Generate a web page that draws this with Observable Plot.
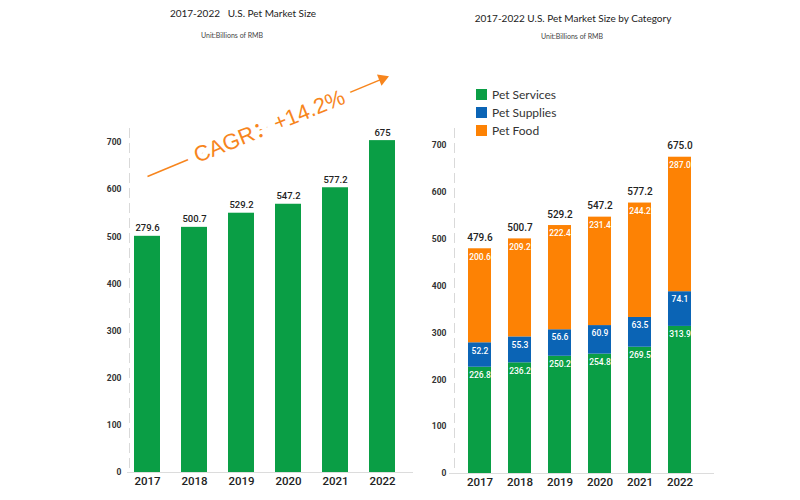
<!DOCTYPE html>
<html>
<head>
<meta charset="utf-8">
<script src="https://cdn.jsdelivr.net/npm/d3@7"></script>
<script src="https://cdn.jsdelivr.net/npm/@observablehq/plot@0.6"></script>
<style>
  body { margin: 0; background: #fff; }
  #wrap { position: relative; width: 800px; height: 500px; overflow: hidden; font-family: Lato, "Noto Sans", sans-serif; }
  .t { position: absolute; transform: translate(-50%, -50%); white-space: pre; line-height: 1; color: #222; }
  .chart { position: absolute; top: 0; }
  .legend { position: absolute; left: 476px; top: 86px; font-size: 12px; color: #333; }
  .legend .row { display: flex; align-items: center; height: 17.8px; }
  .legend .sw { width: 11px; height: 11px; margin-right: 5px; }
</style>
</head>
<body>
<div id="wrap">
  <div class="t" style="left:243px;top:13px;font-size:10px">2017-2022   U.S. Pet Market Size</div>
  <div class="t" style="left:232px;top:35px;font-size:7px;color:#444">Unit:Billions of RMB</div>
  <div class="t" style="left:573px;top:18px;font-size:10px">2017-2022 U.S. Pet Market Size by Category</div>
  <div class="t" style="left:572px;top:36px;font-size:7px;color:#444">Unit:Billions of RMB</div>
  <div class="chart" id="left" style="left:0px"></div>
  <div class="chart" id="right" style="left:420px"></div>
  <div class="legend" id="legend"></div>
</div>
<script>
// ---- data ----
const years = ["2017", "2018", "2019", "2020", "2021", "2022"];
// left chart: bar heights as drawn, and the labels printed above them
const marketHeights = [501, 520, 550, 569, 604, 704];
const marketLabels = ["279.6", "500.7", "529.2", "547.2", "577.2", "675"];
// right chart: stacked categories
const categories = ["Pet Services", "Pet Supplies", "Pet Food"];
const services = [226.8, 236.2, 250.2, 254.8, 269.5, 313.9];
const supplies = [52.2, 55.3, 56.6, 60.9, 63.5, 74.1];
const food = [200.6, 209.2, 222.4, 231.4, 244.2, 287.0];
const totals = [479.6, 500.7, 529.2, 547.2, 577.2, 675.0];
const yTicks = [0, 100, 200, 300, 400, 500, 600, 700];
const colors = ["#0a9e45", "#0b64b5", "#fd8204"];
const orange = "#f7851d";
// CAGR annotation (in data units)
const cagrLabel = "CAGR：+14.2%";
const cagrFrom = "2017", cagrTo = "2022", cagrStart = 628, cagrEnd = 835;
const cagrTextYear = "2020", cagrTextY = 734;

// ---- left chart ----
const leftData = years.map((year, i) => ({year, value: marketHeights[i], label: marketLabels[i]}));
const cagr = [{from: cagrFrom, to: cagrTo, start: cagrStart, end: cagrEnd, mid: cagrTextYear, ty: cagrTextY, label: cagrLabel}];

const left = Plot.plot({
  width: 420, height: 500,
  marginLeft: 129, marginRight: 7, marginTop: 128, marginBottom: 28,
  style: {fontFamily: "Roboto, sans-serif", background: "transparent", overflow: "visible"},
  x: {domain: years, paddingInner: 0.442, paddingOuter: 0.187, align: 0.24},
  y: {domain: [0, 729.7]},
  marks: [
    Plot.frame({anchor: "left", stroke: "#d9d9d9", strokeDasharray: "9,6"}),
    Plot.ruleY([0], {stroke: "#dcdcdc", insetLeft: -2}),
    Plot.barY(leftData, {x: "year", y: "value", fill: colors[0]}),
    Plot.text(leftData, {x: "year", y: "value", text: "label", dy: -8, fontSize: 9.5, fontWeight: 500, fill: "#222"}),
    Plot.axisY({ticks: yTicks, tickSize: 0, tickPadding: 8, fontSize: 8.5, fontWeight: 700, fill: "#333", label: null}),
    Plot.axisX({tickSize: 0, tickPadding: 4, fontSize: 11.5, fontWeight: 500, fill: "#222", label: null}),
    Plot.link(cagr, {x1: "from", y1: "start", x2: "to", y2: "end", stroke: orange, strokeWidth: 1.5}),
    Plot.dot(cagr, {x: "to", y: "end", symbol: "triangle", r: 4.5, fill: orange, rotate: 68}),
    Plot.text(cagr, {x: "mid", y: "ty", dx: -19, text: "label", rotate: -22, fontSize: 22, fill: orange,
      stroke: "white", strokeWidth: 17, fontFamily: "'Liberation Sans', Arial, 'Noto Sans CJK SC', sans-serif"})
  ]
});
document.getElementById("left").append(left);

// ---- right chart ----
const seriesValues = [services, supplies, food];
const stackData = categories.flatMap((category, c) =>
  years.map((year, i) => ({year, category, value: seriesValues[c][i]})));
const totalData = years.map((year, i) => ({year, total: totals[i]}));

const right = Plot.plot({
  width: 380, height: 500,
  marginLeft: 34, marginRight: 86, marginTop: 128, marginBottom: 27,
  style: {fontFamily: "Roboto, sans-serif", background: "transparent", overflow: "visible"},
  x: {domain: years, paddingInner: 0.431, paddingOuter: 0.402, align: 0.366},
  y: {domain: [0, 736.3]},
  color: {domain: categories, range: colors},
  marks: [
    Plot.frame({anchor: "left", stroke: "#d9d9d9", strokeDasharray: "9,6"}),
    Plot.ruleY([0], {stroke: "#dcdcdc", insetLeft: -5}),
    Plot.barY(stackData, {x: "year", y: "value", fill: "category", z: "category"}),
    Plot.text(stackData, Plot.stackY2({x: "year", y: "value", z: "category",
      text: d => d.value.toFixed(1), dy: 8, fontSize: 8.5, fontWeight: 500, fill: "white"})),
    Plot.text(totalData, {x: "year", y: "total", text: d => d.total.toFixed(1), dy: -11, fontSize: 10, fontWeight: 500, fill: "#222"}),
    Plot.axisY({ticks: yTicks, tickSize: 0, tickPadding: 8, fontSize: 8.5, fontWeight: 700, fill: "#333", label: null}),
    Plot.axisX({tickSize: 0, tickPadding: 4, fontSize: 11.5, fontWeight: 500, fill: "#222", label: null})
  ]
});
document.getElementById("right").append(right);

// ---- legend ----
const legend = document.getElementById("legend");
categories.forEach((c, i) => {
  const row = document.createElement("div");
  row.className = "row";
  const sw = document.createElement("div");
  sw.className = "sw";
  sw.style.background = colors[i];
  const label = document.createElement("span");
  label.textContent = c;
  row.append(sw, label);
  legend.append(row);
});
</script>
</body>
</html>
